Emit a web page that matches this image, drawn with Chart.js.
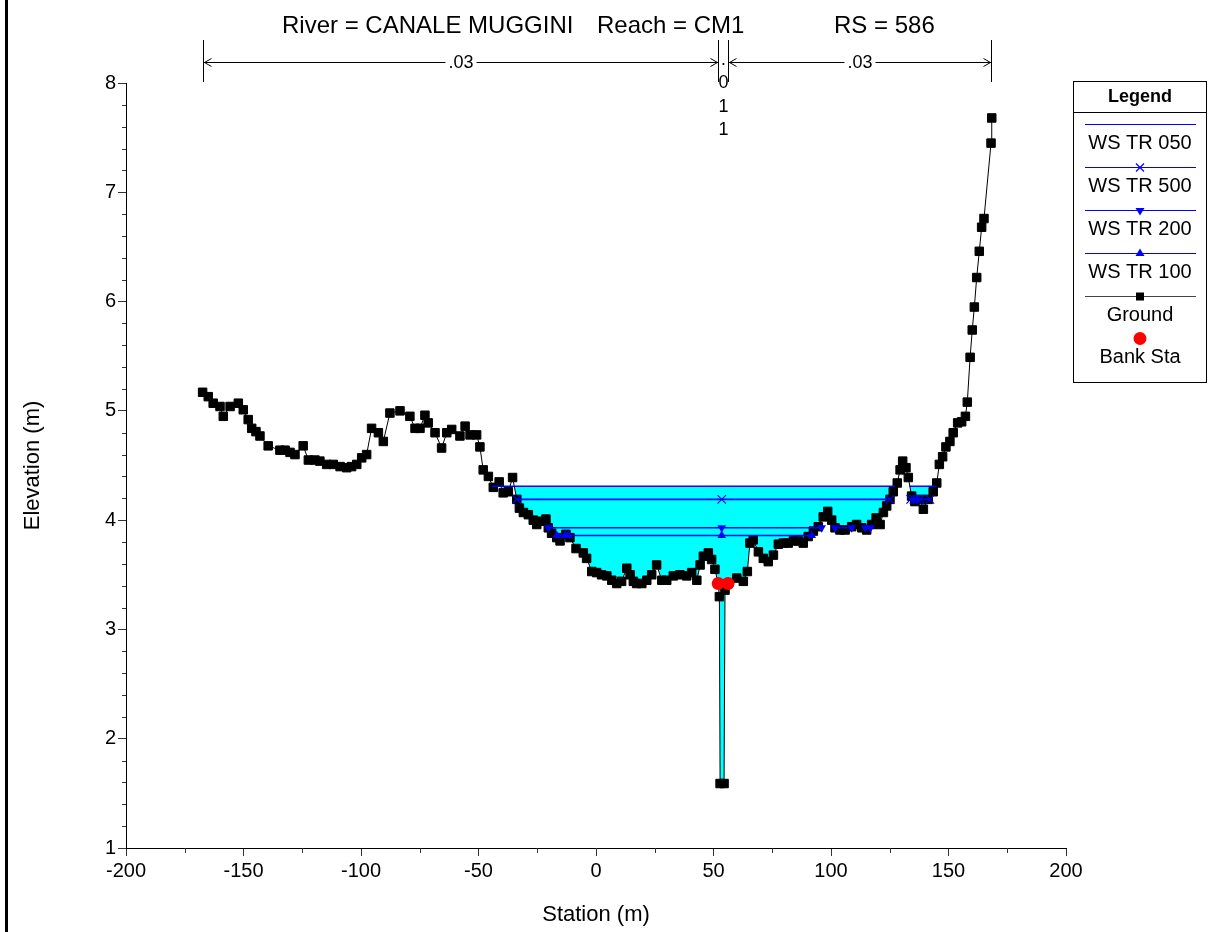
<!DOCTYPE html>
<html>
<head>
<meta charset="utf-8">
<title>River = CANALE MUGGINI - Reach = CM1 - RS = 586</title>
<script src="https://cdn.jsdelivr.net/npm/chart.js@4.4.1/dist/chart.umd.min.js"></script>
<style>
  html, body { margin: 0; padding: 0; background: #fff; }
  #wrap { width: 1215px; height: 932px; }
</style>
</head>
<body>
<div id="wrap"><canvas id="sezione" width="1215" height="932"></canvas></div>
<script>
// Sezione trasversale RS 586 - stazione (m) / quota (m)
const stazioniTerreno = [
  -167.4, -165.0, -162.9, -160.0, -158.6, -155.7, -152.2, -150.1, -148.0, -146.5,
  -144.7, -143.0, -139.5, -134.5, -132.3, -130.2, -128.1, -124.6, -122.4, -119.6,
  -117.5, -114.6, -111.8, -108.9, -106.1, -104.0, -101.8, -99.7, -97.6, -95.5,
  -92.6, -90.5, -87.7, -83.4, -79.2, -77.0, -74.9, -72.8, -71.4, -68.5,
  -65.7, -63.5, -61.4, -57.9, -55.7, -53.6, -50.8, -49.4, -48.0, -45.8,
  -43.7, -41.2, -39.5, -37.3, -35.5, -33.7, -32.6, -30.9, -28.8, -26.7,
  -25.2, -23.1, -21.3, -20.3, -18.9, -16.7, -15.3, -12.8, -11.1, -8.5,
  -5.4, -4.0, -1.8, 0.3, 2.4, 4.6, 6.7, 8.8, 10.9, 13.1,
  14.5, 15.9, 17.3, 19.5, 21.6, 23.7, 25.8, 28.0, 30.1, 32.9,
  35.7, 38.6, 40.7, 42.9, 44.3, 45.7, 47.8, 49.2, 50.6, 52.0,
  52.5, 52.8, 54.5, 54.9, 56.2, 59.9, 62.7, 64.4, 65.5, 66.9,
  69.1, 71.2, 73.3, 75.5, 77.6, 79.7, 81.8, 84.0, 86.1, 88.2,
  90.3, 92.5, 94.6, 96.7, 98.6, 100.3, 101.7, 103.8, 106.0, 108.8,
  110.9, 113.1, 115.2, 117.3, 119.2, 120.9, 122.3, 123.7, 125.1, 126.5,
  128.2, 129.4, 130.5, 131.9, 132.9, 134.3, 135.7, 137.9, 139.3, 141.4,
  143.5, 145.0, 146.1, 147.5, 148.9, 150.6, 152.0, 153.9, 155.6, 157.2,
  158.0, 159.2, 160.1, 161.0, 162.0, 163.1, 164.1, 165.1, 168.1, 168.4
];
const quoteTerreno = [
  5.17, 5.13, 5.07, 5.04, 4.95, 5.04, 5.07, 5.01, 4.92, 4.84,
  4.81, 4.77, 4.68, 4.64, 4.64, 4.62, 4.60, 4.68, 4.55, 4.55,
  4.54, 4.51, 4.51, 4.49, 4.48, 4.49, 4.51, 4.57, 4.60, 4.84,
  4.80, 4.72, 4.98, 5.00, 4.95, 4.84, 4.84, 4.96, 4.89, 4.80,
  4.66, 4.80, 4.83, 4.77, 4.86, 4.78, 4.78, 4.67, 4.46, 4.40,
  4.30, 4.35, 4.25, 4.26, 4.39, 4.19, 4.11, 4.07, 4.05, 4.00,
  3.96, 3.99, 4.01, 3.93, 3.88, 3.84, 3.81, 3.87, 3.84, 3.74,
  3.70, 3.65, 3.53, 3.52, 3.50, 3.49, 3.45, 3.42, 3.44, 3.56,
  3.50, 3.44, 3.42, 3.42, 3.45, 3.50, 3.59, 3.45, 3.45, 3.49,
  3.50, 3.49, 3.52, 3.45, 3.59, 3.67, 3.70, 3.64, 3.55, 3.42,
  3.30, 1.59, 1.59, 3.36, 3.42, 3.47, 3.44, 3.53, 3.79, 3.82,
  3.71, 3.65, 3.62, 3.68, 3.78, 3.79, 3.79, 3.81, 3.81, 3.79,
  3.85, 3.90, 3.94, 4.03, 4.08, 4.00, 3.93, 3.91, 3.91, 3.94,
  3.96, 3.93, 3.91, 3.96, 4.02, 3.96, 4.07, 4.13, 4.19, 4.26,
  4.34, 4.46, 4.54, 4.48, 4.39, 4.22, 4.17, 4.19, 4.10, 4.19,
  4.26, 4.34, 4.51, 4.58, 4.67, 4.72, 4.80, 4.89, 4.90, 4.95,
  5.08, 5.49, 5.74, 5.95, 6.22, 6.46, 6.68, 6.76, 7.45, 7.68
];

// sponde (bank stations)
const stazioniSponde = [52.0, 56.2];
const quoteSponde = [3.42, 3.42];

// pelo libero: null = interruzione del tratto bagnato
const quotaWS050 = 4.31;
const stazioniWS050 = [-44.4, 127.2, null, 133.3, 145.0];
const quotaWS500 = 4.19;
const stazioniWS500 = [-33.7, 53.5, 125.1, null, 133.9, 135.3, 136.5, 137.9, 142.1];
const quotaWS200 = 3.93;
const stazioniWS200 = [-20.3, 53.5, 96.0, null, 101.7, 108.8, null, 114.6, 116.8];
const quotaWS100 = 3.86;
const stazioniWS100 = [-16.7, -13.2, null, -11.8, 53.5, 91.8];
// campo di riempimento (fino al livello massimo)
const stazioniRiempimento = [-50, 150];

// scabrezza di Manning
const stazioniManning = [-167.4, 52.0, 56.2, 168.1];
const valoriManning = ['.03', '.011', '.03'];

const etichetteLegenda = ['WS TR 050', 'WS TR 500', 'WS TR 200', 'WS TR 100', 'Ground', 'Bank Sta'];
const titoloParti = ['River = CANALE MUGGINI', 'Reach = CM1', 'RS = 586'];

const fam = "'Liberation Sans', Arial, sans-serif";
const BLU = '#0000ff';

function puntiWS(stazioni, quota) {
  return stazioni.map((s, i) => s === null ? { x: stazioni[i - 1], y: null } : { x: s, y: quota });
}

const datiTerreno = stazioniTerreno.map((s, i) => ({ x: s, y: quoteTerreno[i] }));

const decorazioni = {
  id: 'decorazioni',
  beforeDraw(chart) {
    const ctx = chart.ctx;
    ctx.save();
    ctx.fillStyle = '#fff';
    ctx.fillRect(0, 0, chart.width, chart.height);
    ctx.fillStyle = '#000';
    ctx.fillRect(5, 0, 3, chart.height);
    ctx.restore();
  },
  afterDraw(chart) {
    const { ctx, scales: { x, y }, chartArea } = chart;
    ctx.save();

    // tacche secondarie
    ctx.strokeStyle = '#333';
    ctx.lineWidth = 1;
    ctx.beginPath();
    for (let v = -175; v < 200; v += 50) {
      const px = Math.round(x.getPixelForValue(v)) + 0.5;
      ctx.moveTo(px, chartArea.bottom);
      ctx.lineTo(px, chartArea.bottom + 5);
    }
    for (let i = 1; i < 35; i++) {
      if (i % 5 === 0) continue;
      const py = Math.round(y.getPixelForValue(1 + i * 0.2)) + 0.5;
      ctx.moveTo(chartArea.left - 4, py);
      ctx.lineTo(chartArea.left, py);
    }
    ctx.stroke();

    // titolo
    ctx.fillStyle = '#000';
    ctx.font = '24px ' + fam;
    ctx.textAlign = 'left';
    ctx.textBaseline = 'alphabetic';
    const posTitolo = [282, 597, 834];
    titoloParti.forEach((t, i) => ctx.fillText(t, posTitolo[i], 33));

    // scabrezza di Manning
    const yTop = 40, yBot = 82, yFreccia = 62.5;
    const px = stazioniManning.map(s => Math.round(x.getPixelForValue(s)) + 0.5);
    ctx.strokeStyle = '#000';
    ctx.beginPath();
    px.forEach(p => { ctx.moveTo(p, yTop); ctx.lineTo(p, yBot); });
    ctx.stroke();
    ctx.font = '18px ' + fam;
    valoriManning.forEach((val, i) => {
      const a = px[i], b = px[i + 1];
      if (b - a > 40) {
        const cx = (a + b) / 2;
        const w = ctx.measureText(val).width;
        ctx.beginPath();
        ctx.moveTo(a, yFreccia); ctx.lineTo(cx - w / 2 - 3, yFreccia);
        ctx.moveTo(cx + w / 2 + 3, yFreccia); ctx.lineTo(b, yFreccia);
        ctx.moveTo(a + 8, yFreccia - 4); ctx.lineTo(a + 1, yFreccia); ctx.lineTo(a + 8, yFreccia + 4);
        ctx.moveTo(b - 8, yFreccia - 4); ctx.lineTo(b - 1, yFreccia); ctx.lineTo(b - 8, yFreccia + 4);
        ctx.stroke();
        ctx.textAlign = 'center';
        ctx.textBaseline = 'middle';
        ctx.fillText(val, cx, yFreccia + 1);
      } else {
        ctx.textAlign = 'center';
        ctx.textBaseline = 'middle';
        const cx = (a + b) / 2;
        val.split('').forEach((ch, k) => ctx.fillText(ch, cx, 60 + k * 23.3));
      }
    });

    // legenda
    const bx = 1073.5, by = 81.5, bw = 133, bh = 301;
    const lx0 = 1085, lx1 = 1196, lcx = 1140;
    ctx.strokeStyle = '#000';
    ctx.lineWidth = 1;
    ctx.strokeRect(bx, by, bw, bh);
    ctx.beginPath();
    ctx.moveTo(bx, 112.5); ctx.lineTo(bx + bw, 112.5);
    ctx.stroke();
    ctx.fillStyle = '#000';
    ctx.textAlign = 'center';
    ctx.textBaseline = 'middle';
    ctx.font = 'bold 18px ' + fam;
    ctx.fillText('Legend', lcx, 97);
    ctx.font = '20px ' + fam;
    etichetteLegenda.forEach((lab, i) => {
      const ly = 124.5 + i * 43;
      if (i < 5) {
        ctx.strokeStyle = i < 4 ? BLU : '#444';
        ctx.lineWidth = 1.2;
        ctx.beginPath();
        ctx.moveTo(lx0, ly); ctx.lineTo(lx1, ly);
        ctx.stroke();
      }
      ctx.fillStyle = BLU;
      ctx.strokeStyle = BLU;
      if (i === 1) {
        ctx.beginPath();
        ctx.moveTo(lcx - 4, ly - 4); ctx.lineTo(lcx + 4, ly + 4);
        ctx.moveTo(lcx - 4, ly + 4); ctx.lineTo(lcx + 4, ly - 4);
        ctx.stroke();
      } else if (i === 2) {
        ctx.beginPath();
        ctx.moveTo(lcx - 4.5, ly - 2.5); ctx.lineTo(lcx + 4.5, ly - 2.5); ctx.lineTo(lcx, ly + 5);
        ctx.closePath(); ctx.fill();
      } else if (i === 3) {
        ctx.beginPath();
        ctx.moveTo(lcx - 4.5, ly + 2.5); ctx.lineTo(lcx + 4.5, ly + 2.5); ctx.lineTo(lcx, ly - 5);
        ctx.closePath(); ctx.fill();
      } else if (i === 4) {
        ctx.fillStyle = '#000';
        ctx.fillRect(lcx - 4, ly - 4, 8, 8);
      } else if (i === 5) {
        ctx.fillStyle = '#ff0000';
        ctx.beginPath();
        ctx.arc(lcx, 338.5, 6.5, 0, Math.PI * 2);
        ctx.fill();
      }
      ctx.fillStyle = '#000';
      ctx.fillText(lab, lcx, i < 5 ? ly + 19 : 357);
    });
    ctx.restore();
  }
};

new Chart(document.getElementById('sezione').getContext('2d'), {
  type: 'line',
  data: {
    datasets: [
      {
        label: 'Bank Sta',
        data: stazioniSponde.map((s, i) => ({ x: s, y: quoteSponde[i] })),
        showLine: false,
        pointStyle: 'circle',
        pointRadius: 6.5,
        pointBackgroundColor: '#ff0000',
        pointBorderColor: '#ff0000',
        pointBorderWidth: 0,
        order: 0
      },
      {
        label: 'WS TR 050',
        data: puntiWS(stazioniWS050, quotaWS050),
        borderColor: BLU,
        borderWidth: 1.6,
        pointRadius: 0,
        order: 1
      },
      {
        label: 'WS TR 500',
        data: puntiWS(stazioniWS500, quotaWS500),
        borderColor: BLU,
        borderWidth: 1.6,
        pointStyle: 'crossRot',
        pointRadius: 6,
        pointBorderColor: BLU,
        pointBorderWidth: 1.2,
        order: 2
      },
      {
        label: 'WS TR 200',
        data: puntiWS(stazioniWS200, quotaWS200),
        borderColor: BLU,
        borderWidth: 1.6,
        pointStyle: 'triangle',
        pointRotation: 180,
        pointRadius: 5,
        pointBackgroundColor: BLU,
        pointBorderColor: BLU,
        pointBorderWidth: 0,
        order: 3
      },
      {
        label: 'WS TR 100',
        data: puntiWS(stazioniWS100, quotaWS100),
        borderColor: BLU,
        borderWidth: 1.6,
        pointStyle: 'triangle',
        pointRadius: 5,
        pointBackgroundColor: BLU,
        pointBorderColor: BLU,
        pointBorderWidth: 0,
        order: 4
      },
      {
        label: 'Ground',
        data: datiTerreno,
        borderColor: '#000',
        borderWidth: 1,
        pointStyle: 'rect',
        pointRadius: 6,
        pointBackgroundColor: '#000',
        pointBorderColor: '#000',
        pointBorderWidth: 1,
        order: 5
      },
      {
        label: 'riempimento',
        data: stazioniRiempimento.map(s => ({ x: s, y: quotaWS050 })),
        borderColor: 'rgba(0,0,0,0)',
        borderWidth: 0,
        pointRadius: 0,
        fill: { target: 5, above: '#00ffff', below: 'rgba(0,0,0,0)' },
        order: 6
      }
    ]
  },
  options: {
    responsive: false,
    animation: false,
    devicePixelRatio: 1,
    layout: { padding: { left: 0, top: 83, right: 149, bottom: 0 } },
    plugins: {
      legend: { display: false },
      title: { display: false },
      tooltip: { enabled: false }
    },
    elements: { line: { tension: 0 } },
    scales: {
      x: {
        type: 'linear',
        min: -200,
        max: 200,
        ticks: { stepSize: 50, autoSkip: false, maxRotation: 0, color: '#000', padding: 3, font: { family: fam, size: 20 } },
        grid: { drawOnChartArea: false, drawTicks: true, tickLength: 8, tickColor: '#333' },
        border: { color: '#000', width: 1 },
        title: { display: true, text: 'Station (m)', color: '#000', font: { family: fam, size: 22 }, padding: { top: 0, bottom: 4 } },
        afterFit(scale) { scale.height = 84; }
      },
      y: {
        type: 'linear',
        min: 1,
        max: 8,
        ticks: { stepSize: 1, color: '#000', padding: 2, font: { family: fam, size: 20 } },
        grid: { drawOnChartArea: false, drawTicks: true, tickLength: 8, tickColor: '#333' },
        border: { color: '#000', width: 1 },
        title: { display: true, text: 'Elevation (m)', color: '#000', font: { family: fam, size: 22 }, padding: { top: 20, bottom: 0 } },
        afterFit(scale) { scale.width = 126; }
      }
    }
  },
  plugins: [decorazioni]
});
</script>
</body>
</html>
